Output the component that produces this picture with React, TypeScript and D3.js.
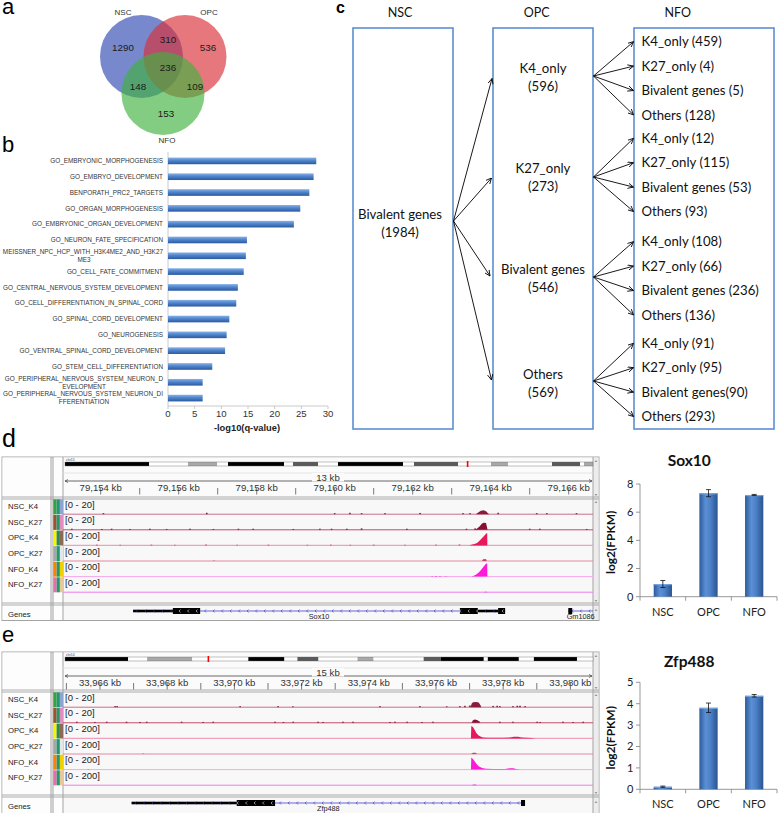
import React from "react";
import * as d3 from "d3";

// ================= DATA =================
const vennSetNames = ["NSC", "OPC", "NFO"];
// NSC only, OPC only, NFO only, NSC&OPC, NSC&NFO, OPC&NFO, all three
const vennRegionCounts = [1290, 536, 153, 310, 148, 109, 236];

const goTerms = [
  "GO_EMBRYONIC_MORPHOGENESIS",
  "GO_EMBRYO_DEVELOPMENT",
  "BENPORATH_PRC2_TARGETS",
  "GO_ORGAN_MORPHOGENESIS",
  "GO_EMBRYONIC_ORGAN_DEVELOPMENT",
  "GO_NEURON_FATE_SPECIFICATION",
  "MEISSNER_NPC_HCP_WITH_H3K4ME2_AND_H3K27\nME3",
  "GO_CELL_FATE_COMMITMENT",
  "GO_CENTRAL_NERVOUS_SYSTEM_DEVELOPMENT",
  "GO_CELL_DIFFERENTIATION_IN_SPINAL_CORD",
  "GO_SPINAL_CORD_DEVELOPMENT",
  "GO_NEUROGENESIS",
  "GO_VENTRAL_SPINAL_CORD_DEVELOPMENT",
  "GO_STEM_CELL_DIFFERENTIATION",
  "GO_PERIPHERAL_NERVOUS_SYSTEM_NEURON_D\nEVELOPMENT",
  "GO_PERIPHERAL_NERVOUS_SYSTEM_NEURON_DI\nFFERENTIATION",
];
const goNegLog10Q = [27.8, 27.3, 26.5, 24.8, 23.6, 14.8, 14.6, 14.2, 13.1, 12.8, 11.5, 11.0, 10.7, 8.3, 6.5, 6.5];
const goTicks = [0, 5, 10, 15, 20, 25, 30];
const goAxisTitle = "-log10(q-value)";

const stageNames = ["NSC", "OPC", "NFO"];
const nscState = ["Bivalent genes", "(1984)"];
const opcStates = ["K4_only", "K27_only", "Bivalent genes", "Others"];
const opcCounts = [596, 273, 546, 569];
const nfoLabels = [
  ["K4_only (459)", "K27_only (4)", "Bivalent genes (5)", "Others (128)"],
  ["K4_only (12)", "K27_only (115)", "Bivalent genes (53)", "Others (93)"],
  ["K4_only (108)", "K27_only (66)", "Bivalent genes (236)", "Others (136)"],
  ["K4_only (91)", "K27_only (95)", "Bivalent genes(90)", "Others (293)"],
];

const exprGroups = ["NSC", "OPC", "NFO"];
const sox10Mean = [0.9, 7.35, 7.22];
const sox10Err = [0.25, 0.25, 0.04];
const sox10Ticks = [0, 2, 4, 6, 8];
const zfp488Mean = [0.12, 3.81, 4.37];
const zfp488Err = [0.03, 0.22, 0.06];
const zfp488Ticks = [0, 1, 2, 3, 4, 5];

const trackNames = ["NSC_K4", "NSC_K27", "OPC_K4", "OPC_K27", "NFO_K4", "NFO_K27"];
const trackMax = [20, 20, 200, 200, 200, 200];

// cytoband stains & relative lengths
const sox10Bands = [["b", 84], ["w", 39], ["g", 29], ["w", 11], ["b", 56], ["w", 9], ["d", 25], ["w", 20], ["b", 65], ["w", 11], ["d", 44], ["w", 33], ["g", 17], ["w", 44], ["d", 28], ["w", 4], ["g", 9]];
const sox10RedBand = 402.5;
const zfp488Bands = [["b", 63], ["w", 19], ["g", 45], ["w", 56], ["b", 36], ["w", 13], ["d", 21], ["w", 39], ["g", 16], ["w", 50], ["d", 17], ["b", 43], ["w", 4], ["b", 31], ["w", 15], ["b", 43], ["w", 16]];
const zfp488RedBand = 143;

const sox10TickKb = [79154, 79155, 79156, 79157, 79158, 79159, 79160, 79161, 79162, 79163, 79164, 79165, 79166];
const sox10LabelKb = [79154, 79156, 79158, 79160, 79162, 79164, 79166];
const zfp488TickKb = [33965, 33966, 33967, 33968, 33969, 33970, 33971, 33972, 33973, 33974, 33975, 33976, 33977, 33978, 33979, 33980];
const zfp488LabelKb = [33966, 33968, 33970, 33972, 33974, 33976, 33978, 33980];

// coverage signals: profiles = [kb, value] outlines, dots = isolated small bins
const sox10Signals = [
  { profiles: [[[79163.62, 0], [79163.68, 2.5], [79163.75, 5], [79163.82, 5.5], [79163.88, 4], [79163.93, 1.5], [79163.96, 0]]],
    dots: [[79154.07, 1.5], [79156.72, 2], [79160.0, 1.5], [79160.39, 2], [79160.69, 1.5], [79161.29, 1.5], [79162.19, 1.8], [79163.29, 1.5], [79163.47, 1.5], [79164.19, 2], [79165.18, 1.5], [79165.44, 1.5], [79166.2, 1.5]] },
  { profiles: [[[79163.6, 0], [79163.66, 2], [79163.72, 5], [79163.77, 8.5], [79163.82, 10], [79163.88, 9.5], [79163.92, 0]]],
    dots: [[79153.26, 1.5], [79154.03, 1.2], [79154.28, 1.5], [79154.75, 1.2], [79155.26, 1.5], [79155.69, 1.2], [79156.29, 1.5], [79156.89, 1.2], [79157.53, 1.5], [79157.91, 1.5], [79158.94, 1.2], [79159.62, 1.5], [79159.92, 1.5], [79160.31, 1.5], [79160.69, 2], [79161.85, 1.5], [79163.38, 1.5], [79163.6, 2], [79165.0, 1.5], [79165.26, 1.5], [79166.46, 1.2]] },
  { profiles: [[[79163.45, 0], [79163.5, 8], [79163.58, 18], [79163.65, 35], [79163.72, 70], [79163.78, 105], [79163.84, 140], [79163.89, 171], [79163.91, 171], [79163.915, 0]]],
    dots: [[79153.9, 10], [79154.5, 8], [79155.3, 10], [79155.9, 8], [79156.7, 12], [79157.5, 8], [79158.3, 10], [79159.3, 8], [79159.9, 10], [79160.4, 8], [79161.0, 10], [79161.8, 8], [79162.6, 10], [79163.2, 12]] },
  { profiles: [[[79163.78, 0], [79163.8, 25], [79163.88, 28], [79163.9, 0]]],
    dots: [[79156.9, 6]] },
  { profiles: [[[79163.5, 0], [79163.55, 8], [79163.62, 25], [79163.7, 60], [79163.76, 100], [79163.82, 140], [79163.88, 180], [79163.91, 185], [79163.915, 0]]],
    dots: [[79162.5, 6], [79162.6, 8], [79162.7, 6], [79162.85, 5]] },
  { profiles: [[[79163.82, 0], [79163.85, 8], [79163.9, 8], [79163.92, 0]]],
    dots: [] },
];

const zfp488Signals = [
  { profiles: [[[33977.03, 0], [33977.06, 5], [33977.1, 7], [33977.2, 7.2], [33977.27, 6.5], [33977.32, 3], [33977.35, 0]]],
    dots: [[33966.45, 1.5], [33966.51, 1.5], [33970.17, 1.5], [33971.3, 1.5], [33971.74, 1.2], [33974.33, 1.5], [33975.52, 1.5], [33976.32, 1.2], [33976.71, 1.5], [33976.86, 2], [33977.01, 2.5], [33977.7, 1.8], [33977.82, 2], [33977.9, 1.5], [33978.29, 1.5], [33978.42, 2], [33978.5, 2], [33978.65, 1.5]] },
  { profiles: [[[33977.06, 0], [33977.1, 3.5], [33977.15, 4.5], [33977.22, 4], [33977.28, 2], [33977.32, 0]]],
    dots: [[33965.31, 1.5], [33965.85, 1.2], [33966.2, 1.5], [33966.79, 1.5], [33967.19, 1.2], [33967.39, 1.5], [33968.43, 1.5], [33969.07, 1.2], [33969.37, 1.5], [33971.21, 1.5], [33971.46, 1.2], [33971.75, 1.5], [33972.49, 1.5], [33972.64, 1.2], [33973.23, 1.5], [33973.53, 1.5], [33974.63, 1.2], [33974.78, 1.5], [33975.14, 1.5], [33975.58, 1.2], [33975.91, 1.5], [33977.9, 1.5], [33978.29, 1.5], [33979.01, 1.5], [33979.1, 1.2], [33979.78, 1.5], [33980.08, 1.2], [33980.38, 1.5]] },
  { profiles: [[[33977.04, 0], [33977.05, 175], [33977.1, 160], [33977.15, 120], [33977.2, 75], [33977.26, 45], [33977.32, 25], [33977.4, 14], [33977.55, 10], [33977.8, 9], [33978.0, 10], [33978.2, 14], [33978.32, 22], [33978.45, 22], [33978.55, 14], [33978.7, 8], [33978.85, 4], [33978.95, 0]]],
    dots: [] },
  { profiles: [[[33977.05, 0], [33977.1, 18], [33977.18, 18], [33977.22, 0]]],
    dots: [[33967.29, 6]] },
  { profiles: [[[33977.04, 0], [33977.05, 170], [33977.1, 150], [33977.16, 110], [33977.22, 70], [33977.28, 45], [33977.34, 30], [33977.4, 20], [33977.5, 12], [33977.7, 8], [33977.9, 7], [33978.05, 8], [33978.2, 18], [33978.3, 20], [33978.38, 10], [33978.5, 3], [33978.55, 0]]],
    dots: [[33965.65, 5]] },
  { profiles: [[[33977.06, 0], [33977.12, 10], [33977.18, 10], [33977.22, 0]]],
    dots: [] },
];

const sox10Genes = [
  { name: "Sox10", span: [79154.83, 79164.37], utr: [[79154.83, 79155.85], [79163.67, 79164.19]], cds: [[79155.85, 79156.55], [79163.21, 79163.67], [79164.19, 79164.37]] },
  { name: "Gm1086", span: [79165.99, 79167.2], utr: [], cds: [[79165.99, 79166.09]] },
];
const zfp488Genes = [
  { name: "Zfp488", span: [33966.94, 33978.65], utr: [[33966.94, 33970.07]], cds: [[33970.07, 33971.21], [33978.53, 33978.65]] },
];

// ================= STYLE =================
const ARIAL = "'Liberation Sans', Arial, Helvetica, sans-serif";
const CAL = "Lato, 'Noto Sans', sans-serif";
const trackPeakColors = ["#8c1a3c", "#8a0f33", "#e8195a", "#d0406a", "#ff1ad9", "#e040e0"];
const trackLineColors = ["#c8708c", "#c24a6c", "#f0a0bc", "#e3889f", "#f6a6ea", "#f07cf0"];
const attrColors = [
  ["#3aa040", "#1f9a70", "#8da4d0"],
  ["#a0522d", "#1f9a70", "#e58cbf"],
  ["#f5f500", "#2a8a5a", "#8b6b55"],
  ["#a6a6a6", "#1f9a70", "#e6e6e6"],
  ["#ff8000", "#1f9a70", "#f0d000"],
  ["#f06aa8", "#1f9a70", "#e8c89a"],
];

// ================= COMPONENTS =================
function PanelLetters() {
  return (
    <g fontFamily={ARIAL} fill="#000">
      <text x={2} y={14} fontSize={22}>a</text>
      <text x={2} y={151.5} fontSize={22}>b</text>
      <text x={336} y={12.5} fontSize={16} fontWeight="bold">c</text>
      <text x={2} y={446.5} fontSize={25}>d</text>
      <text x={2} y={642} fontSize={22}>e</text>
    </g>
  );
}

function Venn() {
  const r = 41.5;
  const centers = [[141.5, 56.5], [185, 56.5], [163, 93.5]];
  const fills = ["#3048b1", "#d93037", "#3fb23f"];
  const setLabelPos = [[123, 15], [209, 15], [167, 143]];
  const countPos = [[123, 48], [208, 48], [166, 114], [168, 40], [138, 87], [195, 87], [168, 68]];
  return (
    <g fontFamily={ARIAL}>
      {centers.map((c, i) => (
        <circle key={i} cx={c[0]} cy={c[1]} r={r} fill={fills[i]} fillOpacity={0.65} />
      ))}
      {vennSetNames.map((n, i) => (
        <text key={n} x={setLabelPos[i][0]} y={setLabelPos[i][1]} fontSize={8} textAnchor="middle" fill="#333">{n}</text>
      ))}
      {vennRegionCounts.map((v, i) => (
        <text key={i} x={countPos[i][0]} y={countPos[i][1]} dy="0.35em" fontSize={9.8} textAnchor="middle" fill="#1a1a1a">{v}</text>
      ))}
    </g>
  );
}

function GoChart() {
  const x = d3.scaleLinear().domain([0, 30]).range([168, 328]);
  const y = d3.scaleBand<string>().domain(goTerms).range([153, 406]).paddingInner(0.58).paddingOuter(0.29);
  const bw = y.bandwidth();
  return (
    <g fontFamily={ARIAL}>
      <defs>
        <linearGradient id="goGrad" x1="0" y1="0" x2="0" y2="1">
          <stop offset="0" stopColor="#86b1e6" />
          <stop offset="0.45" stopColor="#4f84cc" />
          <stop offset="1" stopColor="#2a5a9e" />
        </linearGradient>
      </defs>
      <line x1={x(0)} x2={x(0)} y1={152} y2={406} stroke="#bdbdbd" strokeWidth={0.8} />
      <line x1={x(0)} x2={x(30)} y1={406} y2={406} stroke="#bdbdbd" strokeWidth={0.8} />
      {goTicks.map((t) => (
        <g key={t}>
          <line x1={x(t)} x2={x(t)} y1={406} y2={409} stroke="#bdbdbd" strokeWidth={0.8} />
          <text x={x(t)} y={416.5} fontSize={9.6} textAnchor="middle" fill="#333">{t}</text>
        </g>
      ))}
      <text x={247} y={430.5} fontSize={9.3} fontWeight="bold" textAnchor="middle" fill="#222">{goAxisTitle}</text>
      {goTerms.map((t, i) => {
        const y0 = y(t) as number;
        const yc = y0 + bw / 2;
        const lines = t.split("\n");
        return (
          <g key={t}>
            <rect x={x(0)} y={y0} width={x(goNegLog10Q[i]) - x(0)} height={bw} fill="url(#goGrad)" />
            {lines.length === 1 ? (
              <text x={163} y={yc} dy="0.35em" textAnchor="end" fontSize={6.4} fill="#333">{t}</text>
            ) : (
              <text fontSize={6.4} fill="#333">
                <tspan x={163} y={yc - 4} dy="0.35em" textAnchor="end">{lines[0]}</tspan>
                <tspan x={84} y={yc + 4} dy="0.35em" textAnchor="middle">{lines[1]}</tspan>
              </text>
            )}
          </g>
        );
      })}
    </g>
  );
}

function Flow() {
  const boxTop = 28, boxBot = 429;
  const boxes = [[353, 453], [493, 593], [634, 774]];
  const headerX = [400, 536.7, 677.7];
  const opcCenters = [77, 177.5, 278, 383];
  const opcSrcY = [76, 177, 277, 381];
  const nscTargets = [[492, 78.5], [491.5, 178], [490, 276], [491.5, 380]];
  const groupStart = [41.7, 138.3, 241.7, 343.3];
  const step = 24.4;
  const fs = 13.2;
  const base = (c: number) => c + 4.7;
  return (
    <g fontFamily={CAL} fill="#111">
      <defs>
        <marker id="arrowHead" viewBox="0 0 10 10" refX="9.5" refY="5" markerWidth="6" markerHeight="6" orient="auto" markerUnits="userSpaceOnUse">
          <path d="M0,0.5 L9.5,5 L0,9.5" fill="none" stroke="#000" strokeWidth="1.4" />
        </marker>
      </defs>
      {boxes.map((b, i) => (
        <rect key={i} x={b[0]} y={boxTop} width={b[1] - b[0]} height={boxBot - boxTop} fill="none" stroke="#5b8fd2" strokeWidth={1.6} />
      ))}
      {stageNames.map((s, i) => (
        <text key={s} x={headerX[i]} y={base(12)} fontSize={12.5} textAnchor="middle">{s}</text>
      ))}
      <text x={400} y={base(214)} fontSize={fs} textAnchor="middle">{nscState[0]}</text>
      <text x={400} y={base(232)} fontSize={fs} textAnchor="middle">{nscState[1]}</text>
      {opcStates.map((s, i) => (
        <g key={s}>
          <text x={543} y={base(opcCenters[i] - 9)} fontSize={fs} textAnchor="middle">{s}</text>
          <text x={543} y={base(opcCenters[i] + 9)} fontSize={fs} textAnchor="middle">({opcCounts[i]})</text>
        </g>
      ))}
      {nscTargets.map((t, i) => (
        <line key={i} x1={453.5} y1={221} x2={t[0]} y2={t[1]} stroke="#000" strokeWidth={0.9} markerEnd="url(#arrowHead)" />
      ))}
      {nfoLabels.map((grp, g) => (
        <g key={g}>
          {grp.map((lab, j) => {
            const yc = groupStart[g] + j * step;
            return (
              <g key={lab}>
                <line x1={593.5} y1={opcSrcY[g]} x2={633.5} y2={yc} stroke="#000" strokeWidth={0.9} markerEnd="url(#arrowHead)" />
                <text x={641.5} y={base(yc)} fontSize={fs}>{lab}</text>
              </g>
            );
          })}
        </g>
      ))}
    </g>
  );
}

function IGV(p: any) {
  const { id, top, headerBottom, trackBottom, bottom, bands, redAt, domain, range, tickKbs, labelKbs, spanLabel, chrom, signals, genes } = p;
  const L = 2, R = 599, NR = 51, AL = 53, DL = 63, DR = 593;
  const x = d3.scaleLinear().domain(domain).range(range);
  const rowH = 15.6;
  const geneTop = trackBottom + 2;
  const totalBand = d3.sum(bands, (b: any) => b[1]);
  const ix = d3.scaleLinear().domain([0, totalBand]).range([65, 593]);
  let acc = 0;
  const bandRects = bands.map((b: any) => {
    const s = acc;
    acc += b[1];
    return { s, e: acc, t: b[0] };
  });
  const bandFill: any = { b: "#000", d: "#5a5a5a", g: "#a8a8a8", w: "#fff" };
  const fmt = d3.format(",");
  const rulerY = top + 24;
  const gY = geneTop + 5;
  const clipId = "clip" + id;
  const frame = "#a3a3a3";
  return (
    <g fontFamily={ARIAL}>
      <defs>
        <clipPath id={clipId}>
          <rect x={DL} y={top} width={DR - DL} height={bottom - top} />
        </clipPath>
      </defs>
      <rect x={L} y={top} width={R - L} height={bottom - top} fill="#f8f8f8" stroke={frame} strokeWidth={1} />
      <rect x={L + 0.5} y={top + 0.5} width={NR - L - 1} height={bottom - top - 1} fill="#fdfdfd" />
      <rect x={AL} y={top + 0.5} width={DL - AL} height={bottom - top - 1} fill="#fdfdfd" />
      <rect x={DL} y={top + 0.5} width={DR - DL} height={headerBottom - top - 1} fill="#fbfbfb" />
      {/* scroll bar */}
      <rect x={DR} y={top + 0.5} width={R - DR - 0.5} height={bottom - top - 1} fill="#ececec" />
      {[top + 3, headerBottom + 3, geneTop + 3].map((yy, i) => (
        <path key={"su" + i} d={`M${DR + 1.5},${yy + 2} L${DR + 3},${yy} L${DR + 4.5},${yy + 2}Z`} fill="#999" />
      ))}
      {[headerBottom - 4, trackBottom - 4].map((yy, i) => (
        <path key={"sd" + i} d={`M${DR + 1.5},${yy} L${DR + 3},${yy + 2} L${DR + 4.5},${yy}Z`} fill="#999" />
      ))}
      {/* vertical dividers */}
      {[NR, AL, DL, DR].map((vx) => (
        <line key={vx} x1={vx} x2={vx} y1={top} y2={bottom} stroke={frame} strokeWidth={1} />
      ))}
      {/* horizontal dividers */}
      {[headerBottom - 1, headerBottom + 1, trackBottom - 1, trackBottom + 1].map((hy, i) => (
        <line key={i} x1={L} x2={R} y1={hy} y2={hy} stroke={frame} strokeWidth={0.9} />
      ))}
      {/* header */}
      <text x={66} y={top + 3.8} fontSize={3.5} fill="#444">{chrom}</text>
      {bandRects.map((b: any, i: number) => (
        <rect key={i} x={ix(b.s)} y={top + 5} width={ix(b.e) - ix(b.s)} height={4} fill={bandFill[b.t]} />
      ))}
      <rect x={65} y={top + 5} width={528} height={4} fill="none" stroke="#666" strokeWidth={0.4} />
      <rect x={ix(redAt) - 0.7} y={top + 4} width={1.6} height={6} fill="#ff0000" />
      <line x1={DL} x2={DR} y1={top + 16} y2={top + 16} stroke="#e0e0e0" strokeWidth={0.8} />
      <line x1={65} x2={592} y1={rulerY} y2={rulerY} stroke="#444" strokeWidth={0.8} />
      <path d={`M${68},${rulerY - 1.5} L${65},${rulerY} L${68},${rulerY + 1.5}`} fill="none" stroke="#444" strokeWidth={0.7} />
      <path d={`M${589},${rulerY - 1.5} L${592},${rulerY} L${589},${rulerY + 1.5}`} fill="none" stroke="#444" strokeWidth={0.7} />
      <rect x={312} y={rulerY - 8} width={32} height={8.5} fill="#fbfbfb" />
      <text x={328} y={rulerY} fontSize={9.6} textAnchor="middle" fill="#333">{spanLabel}</text>
      {tickKbs.map((k: number) => (
        <line key={k} x1={x(k)} x2={x(k)} y1={top + 31} y2={top + 37.5} stroke="#555" strokeWidth={0.8} />
      ))}
      {labelKbs.map((k: number) => (
        <text key={k} x={x(k)} y={top + 34} fontSize={9.6} textAnchor="middle" fill="#333">{fmt(k)} kb</text>
      ))}
      {/* tracks */}
      {signals.map((sig: any, i: number) => {
        const rowTop = headerBottom + 1 + i * rowH;
        const base = rowTop + 15.2;
        const y = d3.scaleLinear().domain([0, trackMax[i]]).range([base, base - 14.3]);
        const area = d3.area<any>().x((d: any) => x(d[0])).y0(base).y1((d: any) => y(d[1]));
        return (
          <g key={trackNames[i]}>
            {attrColors[i].map((c, j) => (
              <rect key={j} x={AL + 0.3 + j * 3.3} y={rowTop + 0.3} width={3.3} height={rowH - 0.6} fill={c} />
            ))}
            <text x={8} y={rowTop + 7.5} dy="0.35em" fontSize={7.7} fill="#222">{trackNames[i]}</text>
            <g clipPath={`url(#${clipId})`}>
              <line x1={DL} x2={DR} y1={base} y2={base} stroke={trackLineColors[i]} strokeWidth={i === 2 ? 1.3 : 1} />
              {sig.profiles.map((pr: any, k: number) => (
                <path key={k} d={area(pr) || ""} fill={trackPeakColors[i]} />
              ))}
              {sig.dots.map((d: any, k: number) => (
                <rect key={"d" + k} x={x(d[0]) - 0.8} y={y(d[1])} width={1.6} height={base - y(d[1])} fill={trackPeakColors[i]} />
              ))}
            </g>
            <text x={65} y={rowTop + 5.5} dy="0.35em" fontSize={9.5} fill="#222">[0 - {trackMax[i]}]</text>
          </g>
        );
      })}
      {/* gene row */}
      <text x={8} y={geneTop + 10.5} fontSize={7.7} fill="#222">Genes</text>
      <g clipPath={`url(#${clipId})`}>
        {genes.map((g: any) => {
          const s = x(g.span[0]), e = x(g.span[1]);
          const ticks = d3.range(s + 4, e - 2, 8.5);
          const inCds = (px: number) => g.cds.some((c: any) => px >= x(c[0]) && px <= x(c[1]));
          return (
            <g key={g.name}>
              <line x1={s} x2={e} y1={gY} y2={gY} stroke="#2b2bd0" strokeWidth={0.7} />
              {g.utr.map((u: any, k: number) => (
                <rect key={"u" + k} x={x(u[0])} y={gY - 1.3} width={x(u[1]) - x(u[0])} height={2.6} fill="#000" />
              ))}
              {g.cds.map((c: any, k: number) => (
                <rect key={"c" + k} x={x(c[0])} y={gY - 3} width={Math.max(1.5, x(c[1]) - x(c[0]))} height={6} fill="#000" />
              ))}
              {ticks.map((t: number, k: number) => (
                <path key={"t" + k} d={`M${t + 1},${gY - 1.5} L${t - 0.5},${gY} L${t + 1},${gY + 1.5}`} fill="none" stroke={inCds(t) ? "#fff" : "#2b2bd0"} strokeWidth={0.6} />
              ))}
            </g>
          );
        })}
      </g>
      {genes.map((g: any) => {
        const s = Math.max(DL, x(g.span[0])), e = Math.min(DR, x(g.span[1]));
        return (
          <text key={g.name + "l"} x={(s + e) / 2} y={geneTop + 13} fontSize={7.3} textAnchor="middle" fill="#222">{g.name}</text>
        );
      })}
    </g>
  );
}

function ExprChart(p: any) {
  const { id, title, means, errs, ticks, yTop, yZero, titleY } = p;
  const x = d3.scaleBand<string>().domain(exprGroups).range([640, 777]).paddingInner(0.6).paddingOuter(0.3);
  const y = d3.scaleLinear().domain([0, ticks[ticks.length - 1]]).range([yZero, yTop]);
  const step = x.step();
  const edges = [640, 640 + step, 640 + 2 * step, 777];
  const gid = "eg" + id;
  return (
    <g fontFamily={CAL}>
      <defs>
        <linearGradient id={gid} x1="0" y1="0" x2="1" y2="0">
          <stop offset="0" stopColor="#2d5b9c" />
          <stop offset="0.35" stopColor="#5b90d6" />
          <stop offset="0.6" stopColor="#4c80c8" />
          <stop offset="1" stopColor="#2a548f" />
        </linearGradient>
      </defs>
      <text x={689.3} y={titleY} fontSize={15.5} fontWeight="bold" textAnchor="middle" fill="#111">{title}</text>
      <line x1={640} x2={640} y1={yTop} y2={yZero} stroke="#8c8c8c" strokeWidth={0.9} />
      <line x1={640} x2={777} y1={yZero} y2={yZero} stroke="#8c8c8c" strokeWidth={0.9} />
      {ticks.map((t: number) => (
        <g key={t}>
          <line x1={636} x2={640} y1={y(t)} y2={y(t)} stroke="#8c8c8c" strokeWidth={0.9} />
          <text x={633.5} y={y(t)} dy="0.35em" fontSize={11} textAnchor="end" fill="#222">{t}</text>
        </g>
      ))}
      {edges.map((ex, i) => (
        <line key={i} x1={ex} x2={ex} y1={yZero} y2={yZero + 4} stroke="#8c8c8c" strokeWidth={0.9} />
      ))}
      <text transform={`translate(615,${(yTop + yZero) / 2 + 2}) rotate(-90)`} fontSize={12} fontWeight="bold" textAnchor="middle" fill="#111">log2(FPKM)</text>
      {exprGroups.map((g, i) => {
        const bx = x(g) as number;
        const cx = bx + x.bandwidth() / 2;
        return (
          <g key={g}>
            <rect x={bx} y={y(means[i])} width={x.bandwidth()} height={yZero - y(means[i])} fill={`url(#${gid})`} />
            <rect x={bx} y={y(means[i])} width={x.bandwidth()} height={1.2} fill="#7fb0ea" opacity={0.8} />
            <line x1={cx} x2={cx} y1={y(means[i] + errs[i])} y2={y(means[i] - errs[i])} stroke="#111" strokeWidth={0.8} />
            <line x1={cx - 2.5} x2={cx + 2.5} y1={y(means[i] + errs[i])} y2={y(means[i] + errs[i])} stroke="#111" strokeWidth={0.8} />
            <line x1={cx - 2.5} x2={cx + 2.5} y1={y(means[i] - errs[i])} y2={y(means[i] - errs[i])} stroke="#111" strokeWidth={0.8} />
            <text x={cx} y={yZero + 19} fontSize={11} textAnchor="middle" fill="#222">{g}</text>
          </g>
        );
      })}
    </g>
  );
}

export default function App() {
  return (
    <svg width={778} height={813} viewBox="0 0 778 813" style={{ position: "absolute", left: 0, top: 0, background: "#fff" }}>
      <rect x={0} y={0} width={778} height={813} fill="#fff" />
      <PanelLetters />
      <Venn />
      <GoChart />
      <Flow />
      <IGV id="d" top={457} headerBottom={498} trackBottom={604} bottom={620.5}
        bands={sox10Bands} redAt={sox10RedBand} domain={[79154, 79166]} range={[100.7, 568.7]}
        tickKbs={sox10TickKb} labelKbs={sox10LabelKb} spanLabel="13 kb" chrom="chr15"
        signals={sox10Signals} genes={sox10Genes} />
      <IGV id="e" top={652} headerBottom={691} trackBottom={796} bottom={815}
        bands={zfp488Bands} redAt={zfp488RedBand} domain={[33966, 33980]} range={[100, 570.4]}
        tickKbs={zfp488TickKb} labelKbs={zfp488LabelKb} spanLabel="15 kb" chrom="chr14"
        signals={zfp488Signals} genes={zfp488Genes} />
      <ExprChart id="s" title="Sox10" means={sox10Mean} errs={sox10Err} ticks={sox10Ticks} yTop={484} yZero={596.7} titleY={465.5} />
      <ExprChart id="z" title="Zfp488" means={zfp488Mean} errs={zfp488Err} ticks={zfp488Ticks} yTop={682.3} yZero={789.3} titleY={667} />
    </svg>
  );
}
